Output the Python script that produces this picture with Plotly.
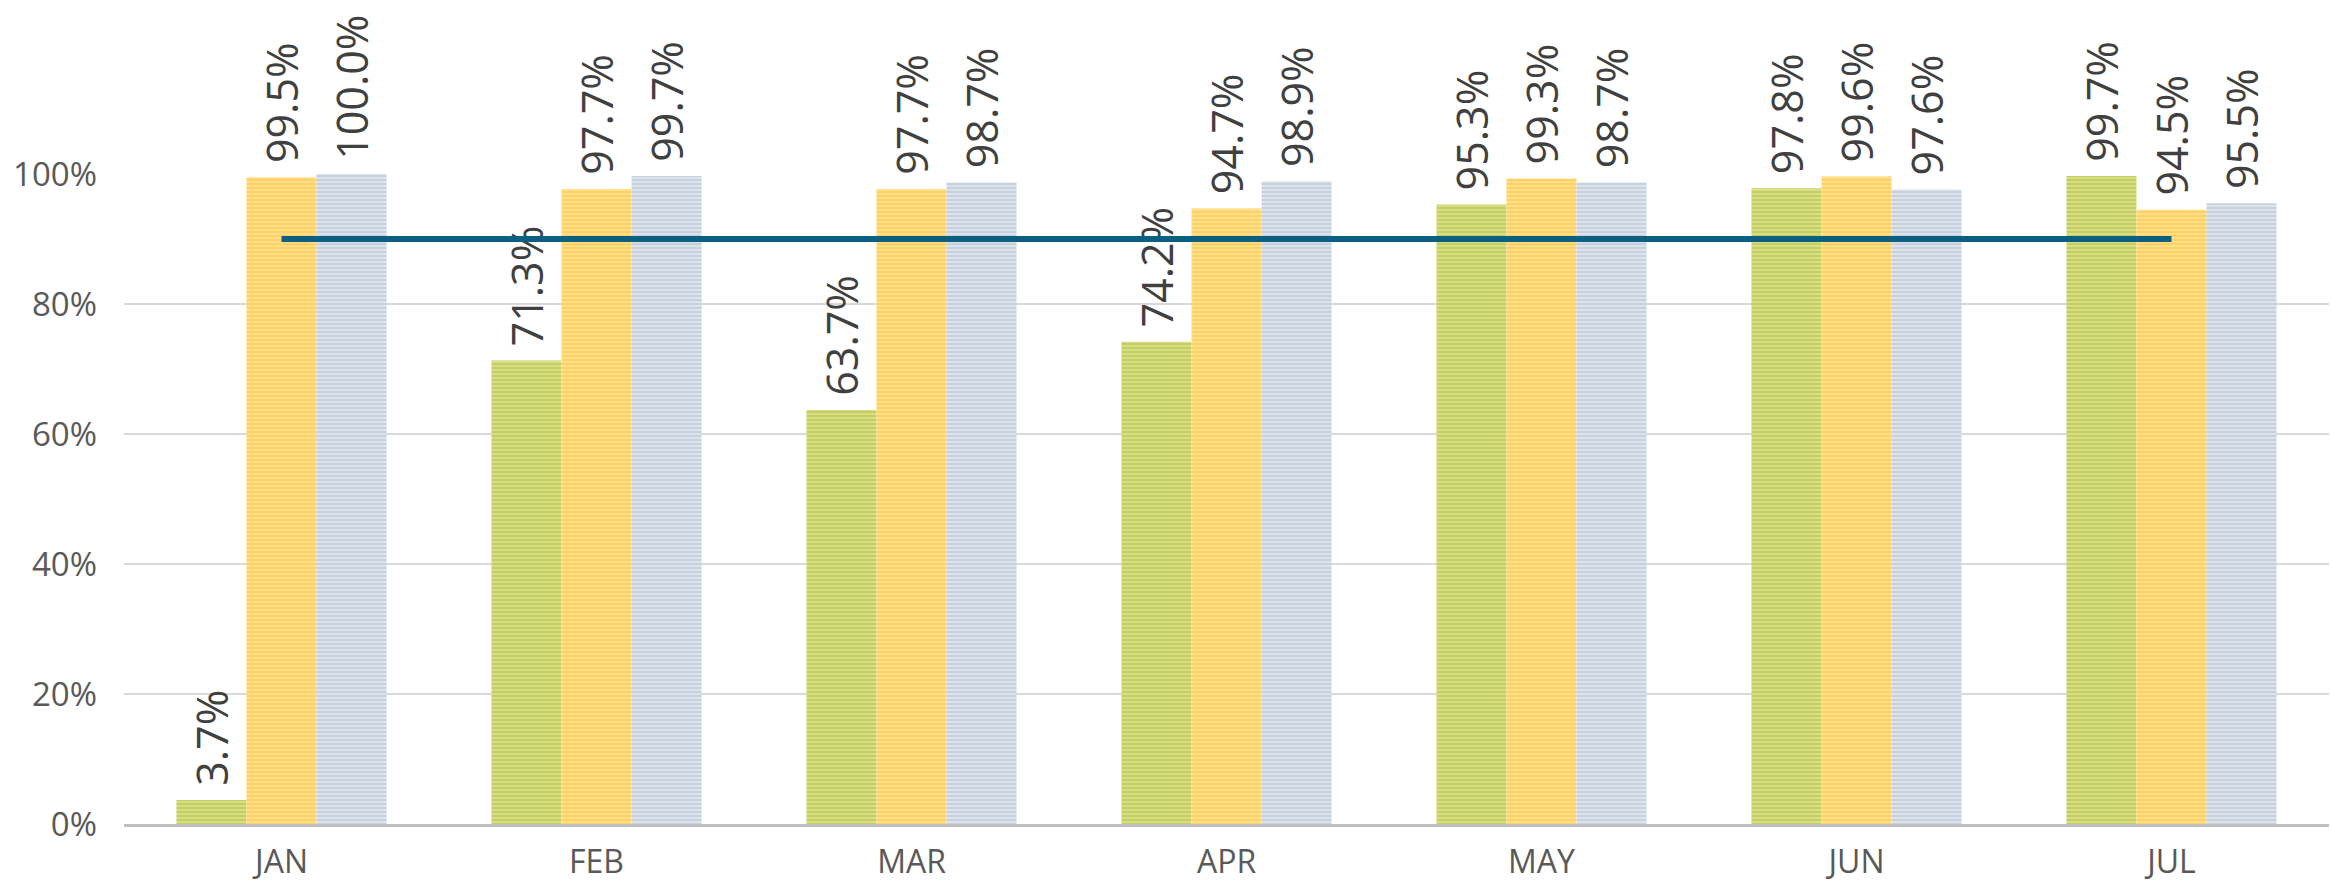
import plotly.graph_objects as go

months = ["JAN", "FEB", "MAR", "APR", "MAY", "JUN", "JUL"]
series_a = [0.037, 0.713, 0.637, 0.742, 0.953, 0.978, 0.997]
series_b = [0.995, 0.977, 0.977, 0.947, 0.993, 0.996, 0.945]
series_c = [1.000, 0.997, 0.987, 0.989, 0.987, 0.976, 0.955]
target = [0.90, 0.90, 0.90, 0.90, 0.90, 0.90, 0.90]
y_ticks = [0, 0.2, 0.4, 0.6, 0.8, 1.0]

FONT = "Open Sans, Lato, sans-serif"
styles = [
    ("Series A", series_a, "#b0bb1c", "#dde39a"),
    ("Series B", series_b, "#ffbf28", "#ffe39a"),
    ("Series C", series_c, "#a9bacb", "#e2e8ef"),
]

fig = go.Figure()
for name, vals, fg, bg in styles:
    fig.add_trace(go.Bar(
        x=months, y=vals, name=name,
        marker=dict(color=fg, line=dict(width=0),
                    pattern=dict(shape="-", fgcolor=fg, bgcolor=bg, size=4, solidity=0.62)),
        texttemplate="\u00a0%{y:.1%}", textposition="outside", textangle=-90,
        constraintext="none", cliponaxis=False,
        outsidetextfont=dict(family=FONT, size=43, color="#404040"),
    ))

fig.add_trace(go.Scatter(
    x=months, y=target, mode="lines", name="Target",
    line=dict(color="#0b5f80", width=6), cliponaxis=False,
))

fig.update_layout(
    width=2331, height=883,
    margin=dict(l=124, r=2, t=174, b=59),
    barmode="group", bargap=0.333, bargroupgap=0,
    plot_bgcolor="white", paper_bgcolor="white",
    showlegend=False,
    font=dict(family=FONT, color="#595959"),
)
fig.update_yaxes(
    range=[0, 1.0], tickvals=y_ticks, tickformat=".0%",
    showgrid=True, gridcolor="#d9d9d9", gridwidth=2,
    zeroline=False, showline=False,
    tickfont=dict(family=FONT, size=33, color="#595959"),
    ticklabelstandoff=26, automargin=False,
)
fig.update_xaxes(
    showline=True, linecolor="#bfbfbf", linewidth=3,
    showgrid=False, ticks="",
    tickfont=dict(family=FONT, size=32, color="#595959"),
    ticklabelstandoff=8, automargin=False,
)

fig.write_html(
    "out.html",
    config={"displayModeBar": False},
    post_script="document.body.style.margin='0';document.body.style.overflow='hidden';",
)
